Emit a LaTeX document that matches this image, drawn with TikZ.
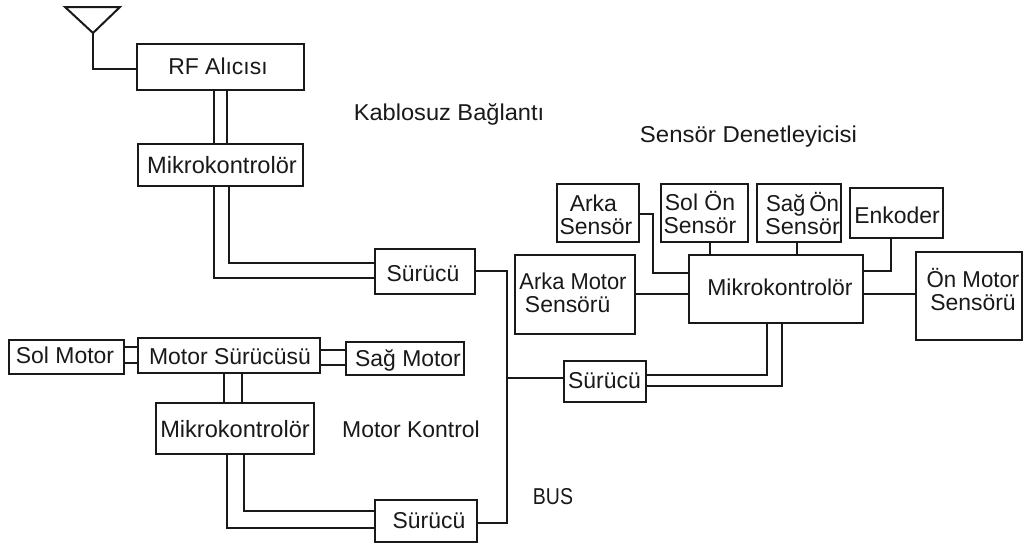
\documentclass[tikz,border=0pt]{standalone}
\usepackage{graphicx}
\usepackage{fontspec}
\setmainfont{Liberation Sans}
\newcommand\fs{\fontsize{17.2pt}{15.75pt}\selectfont}
\newcommand\wide{\fontsize{17.7pt}{15.75pt}\selectfont}
\newcommand\squeeze[2]{\scalebox{#1}[1]{#2}}
% placed text: centre offset and baseline offset from the box centre
\newcommand\placed[3]{\raisebox{#2}[0pt][0pt]{\makebox[0pt]{\hspace*{#1}#3}}}
% \bx{name}{x0}{y0}{x1}{y1}{text centre x}{baseline y}{text}
\newcommand\bx[8]{%
  \pgfmathsetmacro\bxw{(#4-#2)*0.75}%
  \pgfmathsetmacro\bxh{(#5-#3)*0.75}%
  \pgfmathsetmacro\bxdx{(#6-(#2+#4)/2)*1.5}%
  \pgfmathsetmacro\bxdy{((#3+#5)/2-#7)*0.75}%
  \node[blockbox,minimum width=\bxw pt,minimum height=\bxh pt] (#1) at ({(#2+#4)/2},{(#3+#5)/2})
    {\placed{\bxdx pt}{\bxdy pt}{#8}};}
\newcommand\two[2]{\begin{tabular}[b]{@{}c@{}}#1\\#2\end{tabular}}
\tikzset{
  blockbox/.style={draw=wire,line width=1.5pt,fill=white,inner sep=0pt,outer sep=0pt,font=\fs,text=ink},
  freetext/.style={inner sep=0pt,outer sep=0pt,anchor=base,font=\fs,text=ink},
  link/.style={draw=wire,line width=1.5pt,line join=miter}
}
\definecolor{wire}{gray}{0.1}
\definecolor{ink}{gray}{0.1}
\begin{document}
\begin{tikzpicture}[x=0.75pt,y=-0.75pt]
\useasboundingbox (0,0) rectangle (1032,544);
\fill[white] (0,0) rectangle (1032,544);

\bx{rf}{137}{44}{304}{90}{218}{74}{RF Alıcısı}
\bx{mone}{138}{144}{303}{186}{222}{173}{\wide Mikrokontrolör}
\bx{surone}{375}{249}{475}{294}{423}{281}{Sürücü}
\bx{solm}{9}{340}{124}{374}{65}{363}{Sol Motor}
\bx{msur}{138}{338}{320}{373}{230}{364}{Motor Sürücüsü}
\bx{sagm}{346}{342}{464}{375}{408}{366}{Sağ Motor}
\bx{mtwo}{156}{403}{314}{454}{235}{437}{\wide Mikrokontrolör}
\bx{surtwo}{375}{500}{477}{542}{429}{528}{Sürücü}
\bx{surthree}{564}{361}{646}{402}{604.5}{388}{Sürücü}
\bx{mthree}{689}{255}{863}{323}{780}{295}{Mikrokontrolör}
\bx{arka}{557}{184}{639}{242}{596}{234}{\two{Arka\hspace*{4pt}}{Sensör}}
\bx{solon}{661}{184}{748}{242}{700}{233}{\two{Sol Ön}{Sensör}}
\bx{sagon}{757}{184}{841}{242}{802.5}{234}{\two{\squeeze{0.97}{Sağ\,Ön}}{\squeeze{1.03}{Sensör}}}
\bx{enk}{850}{188}{943}{238}{897}{223}{Enkoder}
\bx{amot}{515}{255}{635}{334}{571}{312}{\two{\hspace*{3pt}\squeeze{0.955}{Arka Motor}}{Sensörü\hspace*{5pt}}}
\bx{omot}{916}{252}{1022}{340}{973}{310}{\two{\squeeze{0.97}{Ön Motor}}{Sensörü}}

\node[freetext] (kab) at (449,120) {\scalebox{1.03}[1]{Kablosuz Bağlantı}};
\node[freetext] (sen) at (748.5,142) {\scalebox{1.045}[1]{Sensör Denetleyicisi}};
\node[freetext] (mko) at (411,437) {Motor Kontrol};
\node[freetext] (bus) at (553,504) {\squeeze{0.85}{BUS}};

% antenna
\coordinate (tl) at (65,7);
\coordinate (tr) at (120,7);
\coordinate (ta) at (93,33);
\draw[link] (tl) -- (tr) -- (ta) -- cycle;
\draw[link] (ta) |- (rf.west |- 0,69);

% RF -- Mikrokontrolor
\draw[link] (rf.south -| 214,0) -- (mone.north -| 214,0);
\draw[link] (rf.south -| 227,0) -- (mone.north -| 227,0);
% Mikrokontrolor -- Surucu (top)
\draw[link] (mone.south -| 229,0) |- (surone.west |- 0,263);
\draw[link] (mone.south -| 214,0) |- (surone.west |- 0,278);
% motors
\draw[link] (solm.east |- 0,347) -- (msur.west |- 0,347);
\draw[link] (solm.east |- 0,363) -- (msur.west |- 0,363);
\draw[link] (msur.east |- 0,350) -- (sagm.west |- 0,350);
\draw[link] (msur.east |- 0,365) -- (sagm.west |- 0,365);
\draw[link] (msur.south -| 224,0) -- (mtwo.north -| 224,0);
\draw[link] (msur.south -| 242,0) -- (mtwo.north -| 242,0);
% Mikrokontrolor -- Surucu (bottom)
\draw[link] (mtwo.south -| 244,0) |- (surtwo.west |- 0,511);
\draw[link] (mtwo.south -| 227,0) |- (surtwo.west |- 0,528);
% bus
\coordinate (bustop) at (507,271);
\coordinate (busbot) at (507,523);
\draw[link] (surone.east |- bustop) -- (bustop) -- (busbot) -- (surtwo.east |- busbot);
\draw[link] (surthree.west |- 0,378) -- (507,378);
% sensor controller
\draw[link] (mthree.south -| 767,0) |- (surthree.east |- 0,375);
\draw[link] (mthree.south -| 782,0) |- (surthree.east |- 0,386);
\draw[link] (arka.east |- 0,214) -- (653,214) -- (653,273) -- (mthree.west |- 0,273);
\draw[link] (solon.south -| 710,0) -- (mthree.north -| 710,0);
\draw[link] (sagon.south -| 797,0) -- (mthree.north -| 797,0);
\draw[link] (enk.south -| 891,0) |- (mthree.east |- 0,271);
\draw[link] (amot.east |- 0,294) -- (mthree.west |- 0,294);
\draw[link] (mthree.east |- 0,294) -- (omot.west |- 0,294);
\end{tikzpicture}
\end{document}
